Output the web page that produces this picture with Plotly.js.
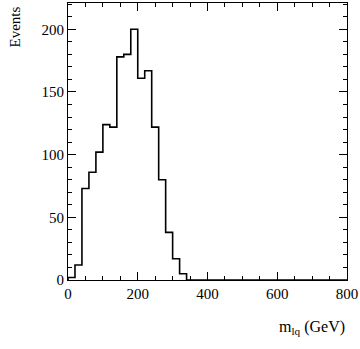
<!DOCTYPE html>
<html>
<head>
<meta charset="utf-8">
<script src="https://cdn.plot.ly/plotly-3.0.1.min.js"></script>
<style>
  html, body { margin: 0; padding: 0; background: #fff; }
  #plot { width: 360px; height: 349px; }
</style>
</head>
<body>
<div id="plot"></div>
<script>
// histogram of m_lq, 20 GeV bins from 0 to 800
const binWidth = 20;
const counts = [2, 12, 73, 86, 102, 124, 122, 178, 180, 200,
                161, 167, 122, 80, 38, 17, 5, 0, 0, 0,
                0, 0, 0, 0, 0, 0, 0, 0, 0, 0,
                0, 0, 0, 0, 0, 0, 0, 0, 0, 0];
const xTickVals = [0, 200, 400, 600, 800];
const yTickVals = [0, 50, 100, 150, 200];

// step line: start at zero, one point per bin low edge, close at upper edge
const stepX = [0];
const stepY = [0];
counts.forEach(function(c, i) {
  stepX.push(i * binWidth);
  stepY.push(c);
});
stepX.push(counts.length * binWidth);
stepY.push(counts[counts.length - 1]);

const trace = {
  x: stepX,
  y: stepY,
  type: 'scatter',
  mode: 'lines',
  line: { shape: 'hv', color: '#000', width: 1.6 },
  hoverinfo: 'skip',
  showlegend: false
};

const serif = '"Liberation Serif", "DejaVu Serif", serif';
const font = { family: serif, size: 15, color: '#000' };

const axisCommon = {
  showgrid: false,
  zeroline: false,
  showline: true,
  linecolor: '#000',
  linewidth: 1,
  mirror: 'ticks',
  ticks: 'inside',
  ticklen: 8,
  tickcolor: '#000',
  tickwidth: 1,
  tickfont: font
};

const layout = {
  width: 360,
  height: 349,
  margin: { l: 68, r: 13, t: 3, b: 69 },
  paper_bgcolor: '#fff',
  plot_bgcolor: '#fff',
  font: font,
  xaxis: Object.assign({}, axisCommon, {
    range: [0, 800],
    tickvals: xTickVals,
    minor: { dtick: 50, ticks: 'inside', ticklen: 4, tickcolor: '#000' }
  }),
  yaxis: Object.assign({}, axisCommon, {
    range: [0, 221],
    tickvals: yTickVals,
    minor: { dtick: 10, ticks: 'inside', ticklen: 4, tickcolor: '#000' }
  }),
  annotations: [
    {
      text: 'Events',
      xref: 'paper', yref: 'paper',
      x: 0, y: 1,
      xanchor: 'center', yanchor: 'top',
      xshift: -54, yshift: -2,
      textangle: -90,
      showarrow: false,
      font: { family: serif, size: 15, color: '#000' }
    },
    {
      text: 'm<sub>lq</sub> (GeV)',
      xref: 'paper', yref: 'paper',
      x: 1, y: 0,
      xanchor: 'right', yanchor: 'top',
      xshift: 0, yshift: -36,
      showarrow: false,
      font: { family: serif, size: 16, color: '#000' }
    }
  ]
};

Plotly.newPlot('plot', [trace], layout, { staticPlot: true, displayModeBar: false });
</script>
</body>
</html>
